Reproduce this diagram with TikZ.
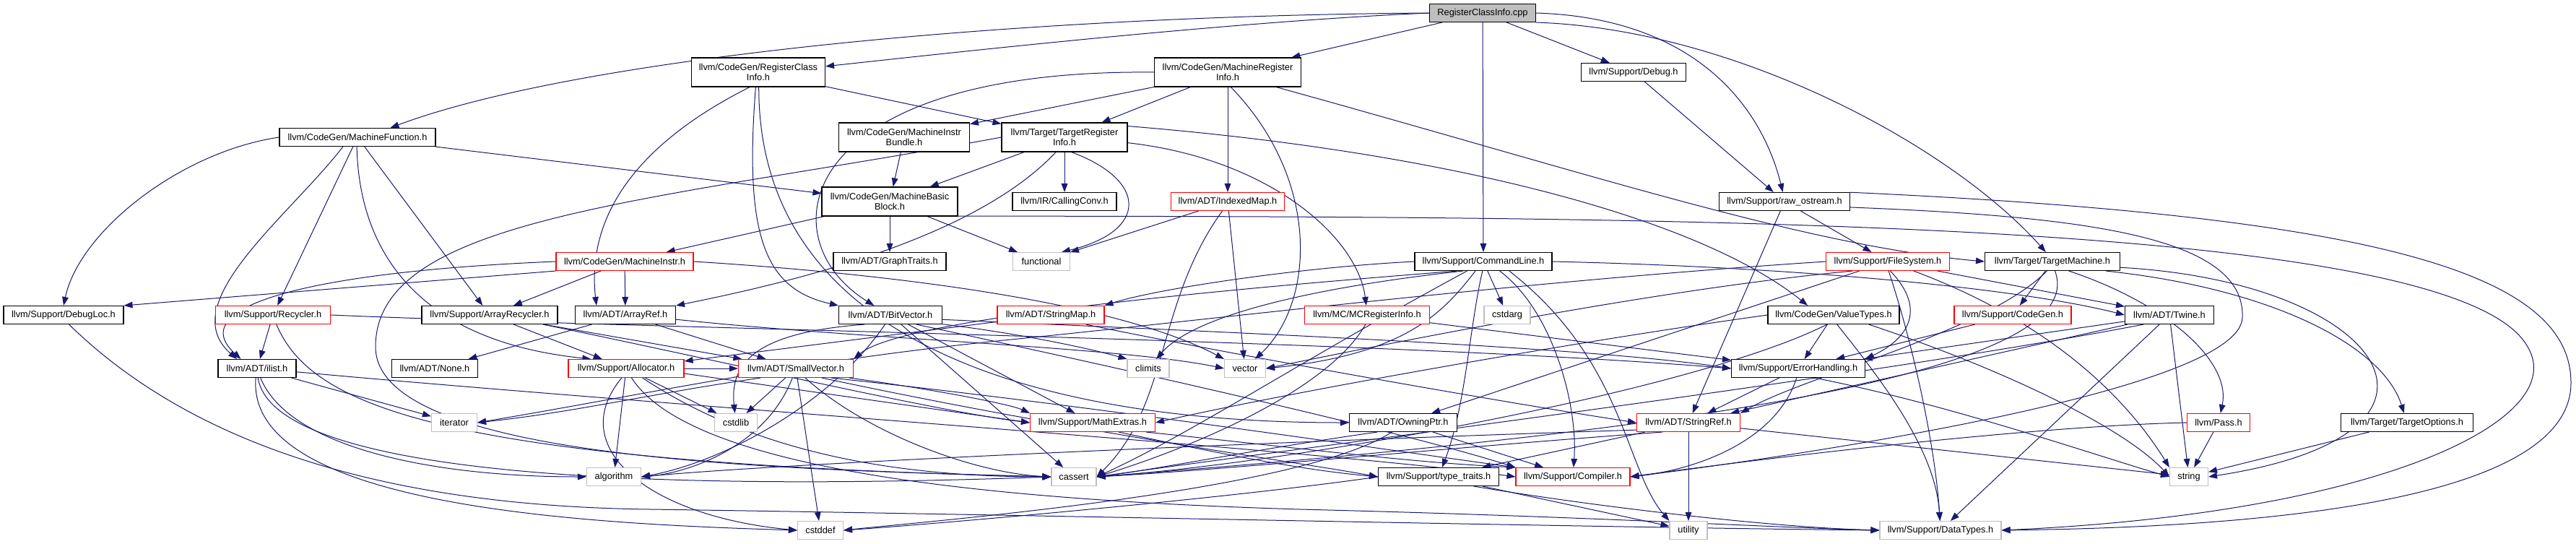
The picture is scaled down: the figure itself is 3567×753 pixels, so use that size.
\documentclass[tikz,border=0pt]{standalone}
\usepackage{fontspec}
\setmainfont{Liberation Sans}
\usetikzlibrary{arrows.meta}
\definecolor{edgec}{HTML}{191970}
\definecolor{grayb}{HTML}{BFBFBF}
\pgfdeclarelayer{bg}
\pgfsetlayers{bg,main}
\begin{document}
\begin{tikzpicture}[x=0.75pt,y=-0.75pt,
  box/.style={draw=black, fill=white, line width=0.8pt, inner sep=0pt, minimum height=18.75pt, align=center, font=\fontsize{9.6}{10.5}\selectfont},
  two/.style={minimum height=30pt},
  wd/.style={minimum width=#1*0.75pt},
  redb/.style={draw=red},
  grayn/.style={draw=grayb},
  e/.style={draw=edgec, line width=0.75pt, -{Triangle[length=9pt,width=6.5pt]}}
]
\useasboundingbox (0,0) rectangle (3567,753);
\begin{pgfonlayer}{bg}
\fill[white] (0,0) rectangle (3567,753);
\end{pgfonlayer}

\node[box,wd=147,fill=grayb] (cpp) at (2053,18) {RegisterClassInfo.cpp};
\node[box,two,wd=185] (rci) at (1050,100) {llvm/CodeGen/RegisterClass\\Info.h};
\node[box,two,wd=203] (mri) at (1700,100) {llvm/CodeGen/MachineRegister\\Info.h};
\node[box,wd=145] (dbg) at (2262,100) {llvm/Support/Debug.h};
\node[box,wd=216] (mf) at (495,190) {llvm/CodeGen/MachineFunction.h};
\node[box,two,wd=181] (mib) at (1252,190) {llvm/CodeGen/MachineInstr\\Bundle.h};
\node[box,two,wd=174] (tri) at (1474,190) {llvm/Target/TargetRegister\\Info.h};
\node[box,two,wd=188] (mbb) at (1232,279) {llvm/CodeGen/MachineBasic\\Block.h};
\node[box,wd=144] (cc) at (1474,279) {llvm/IR/CallingConv.h};
\node[box,redb,wd=157] (imap) at (1700,279) {llvm/ADT/IndexedMap.h};
\node[box,wd=181] (raw) at (2471,279) {llvm/Support/raw\_ostream.h};
\node[box,redb,wd=190] (mi) at (865,362) {llvm/CodeGen/MachineInstr.h};
\node[box,wd=156] (gt) at (1232,362) {llvm/ADT/GraphTraits.h};
\node[box,grayn,wd=79] (func) at (1442,362) {functional};
\node[box,wd=190] (cl) at (2054,362) {llvm/Support/CommandLine.h};
\node[box,redb,wd=171] (fs) at (2614,362) {llvm/Support/FileSystem.h};
\node[box,wd=187] (tm) at (2842,362) {llvm/Target/TargetMachine.h};
\node[box,wd=166] (dl) at (88,436) {llvm/Support/DebugLoc.h};
\node[box,redb,wd=159] (rec) at (378,436) {llvm/Support/Recycler.h};
\node[box,wd=188] (arec) at (678,436) {llvm/Support/ArrayRecycler.h};
\node[box,wd=139] (aref) at (866,436) {llvm/ADT/ArrayRef.h};
\node[box,wd=143] (bv) at (1233,436) {llvm/ADT/BitVector.h};
\node[box,redb,wd=148] (smap) at (1455,436) {llvm/ADT/StringMap.h};
\node[box,redb,wd=173] (mcri) at (1893,436) {llvm/MC/MCRegisterInfo.h};
\node[box,grayn,wd=64] (cstdarg) at (2087,436) {cstdarg};
\node[box,wd=182] (vt) at (2539,436) {llvm/CodeGen/ValueTypes.h};
\node[box,redb,wd=162] (cg) at (2787,436) {llvm/Support/CodeGen.h};
\node[box,wd=123] (tw) at (3004,436) {llvm/ADT/Twine.h};
\node[box,wd=108] (ilist) at (356,510) {llvm/ADT/ilist.h};
\node[box,wd=119] (none) at (602,510) {llvm/ADT/None.h};
\node[box,redb,wd=160] (alloc) at (867,510) {llvm/Support/Allocator.h};
\node[box,redb,wd=159] (sv) at (1102,510) {llvm/ADT/SmallVector.h};
\node[box,grayn,wd=58] (climits) at (1590,510) {climits};
\node[box,grayn,wd=57] (vector) at (1724,510) {vector};
\node[box,wd=185] (eh) at (2490,510) {llvm/Support/ErrorHandling.h};
\node[box,grayn,wd=63] (iter) at (629,585) {iterator};
\node[box,grayn,wd=59] (cstdlib) at (1019,585) {cstdlib};
\node[box,redb,wd=173] (mathx) at (1513,585) {llvm/Support/MathExtras.h};
\node[box,wd=149] (owp) at (1943,585) {llvm/ADT/OwningPtr.h};
\node[box,redb,wd=143] (sref) at (2338,585) {llvm/ADT/StringRef.h};
\node[box,redb,wd=87] (pass) at (3072,585) {llvm/Pass.h};
\node[box,wd=183] (topt) at (3333,585) {llvm/Target/TargetOptions.h};
\node[box,grayn,wd=75] (alg) at (850,660) {algorithm};
\node[box,grayn,wd=62] (cassert) at (1487,660) {cassert};
\node[box,wd=167] (tt) at (1992,660) {llvm/Support/type\_traits.h};
\node[box,redb,wd=158] (comp) at (2178,660) {llvm/Support/Compiler.h};
\node[box,grayn,wd=53] (string) at (3031,660) {string};
\node[box,grayn,wd=63] (cstddef) at (1136,734) {cstddef};
\node[box,grayn,wd=52] (utility) at (2338,734) {utility};
\node[box,grayn,wd=168] (dt) at (2687,734) {llvm/Support/DataTypes.h};

\begin{pgfonlayer}{bg}
% root
\draw[e] (cpp.west) .. controls (1400,22) and (800,80) .. (mf.16);
\draw[e] (cpp.west) .. controls (1700,30) and (1300,75) .. (rci.5);
\draw[e] (cpp) -- (mri);
\draw[e] (cpp) -- (cl);
\draw[e] (cpp) -- (dbg);
\draw[e] (cpp.east) .. controls (2350,25) and (2440,150) .. (raw.100);
\draw[e] (cpp.-10) .. controls (2400,40) and (2700,200) .. (tm.125);
\draw[e] (dbg) -- (raw);
% RegisterClassInfo.h
\draw[e] (rci) -- (tri);
\draw[e] (rci.240) .. controls (880,200) and (812,300) .. (aref.162);
\draw[e] (rci.-100) .. controls (1030,330) and (1060,400) .. (bv.north west);
\draw[e] (rci.-88) .. controls (1050,480) and (1450,585) .. (owp.west);
% MachineRegisterInfo.h
\draw[e] (mri.west) .. controls (1100,95) and (1060,330) .. (bv.150);
\draw[e] (mri) -- (mib);
\draw[e] (mri) -- (tri);
\draw[e] (mri) -- (imap);
\draw[e] (mri.-78) .. controls (1830,250) and (1820,420) .. (vector);
\draw[e] (mri.-17) .. controls (2200,240) and (2500,340) .. (tm.west);
% MachineFunction.h
\draw[e] (mf.west) .. controls (250,210) and (110,320) .. (dl.north);
\draw[e] (mf.-147) .. controls (400,300) and (240,420) .. (ilist.155);
\draw[e] (mf) -- (rec);
\draw[e] (mf.-94) .. controls (497,330) and (560,470) .. (alloc.165);
\draw[e] (mf) -- (arec);
\draw[e] (mf) -- (mbb);
% MachineInstrBundle.h, TargetRegisterInfo.h
\draw[e] (mib) -- (mbb);
\draw[e] (tri) -- (mbb);
\draw[e] (tri) -- (cc);
\draw[e] (tri.-65) .. controls (1590,250) and (1590,320) .. (func.25);
\draw[e] (tri.-120) .. controls (1350,330) and (1100,390) .. (aref.north east);
\draw[e] (tri.-5) .. controls (1760,220) and (1880,330) .. (mcri.95);
\draw[e] (tri.10) .. controls (2000,210) and (2350,300) .. (vt.160);
\draw[e] (tri.west) .. controls (900,280) and (520,300) .. (520,480) .. controls (520,640) and (1100,650) .. (cassert.west);
% MachineBasicBlock.h
\draw[e] (mbb) -- (mi);
\draw[e] (mbb) -- (gt);
\draw[e] (mbb) -- (func);
\draw[e] (mbb.-12) .. controls (2300,300) and (3400,300) .. (3500,480) .. controls (3560,580) and (3300,710) .. (dt.east);
% raw_ostream.h
\draw[e] (raw) -- (sref);
\draw[e] (raw) -- (fs);
\draw[e] (raw.8) .. controls (3300,300) and (3560,380) .. (3560,530) .. controls (3560,700) and (3100,730) .. (dt.east);
\draw[e] (raw.-5) .. controls (2900,300) and (3110,330) .. (3105,440) .. controls (3100,540) and (2500,630) .. (comp.east);
% FileSystem.h
\draw[e] (fs) -- (owp);
\draw[e] (fs) -- (tw);
\draw[e] (fs.-85) .. controls (2650,480) and (2680,620) .. (dt);
\draw[e] (fs.-75) .. controls (2670,430) and (2640,470) .. (eh.north east);
\draw[e] (fs.west) .. controls (2100,390) and (1700,440) .. (1400,470) .. controls (1100,500) and (900,545) .. (iter.east);
\draw[e] (fs.-20) .. controls (2850,450) and (2950,560) .. (string.north west);
\draw[e] (fs.195) .. controls (2300,400) and (1950,470) .. (vector.east);
% ValueTypes.h
\draw[e] (vt) -- (eh);
\draw[e] (vt.west) .. controls (2200,470) and (1800,540) .. (mathx.east);
\draw[e] (vt.-125) .. controls (2350,540) and (1800,640) .. (cassert.east);
\draw[e] (vt.-70) .. controls (2600,520) and (2680,620) .. (dt);
\draw[e] (vt.-15) .. controls (2800,520) and (2950,600) .. (string.west);
% ErrorHandling.h
\draw[e] (eh) -- (sref);
\draw[e] (eh.-100) .. controls (2460,610) and (2350,650) .. (comp.east);
\draw[e] (eh.-30) .. controls (2700,560) and (2900,630) .. (string.west);
% TargetMachine.h
\draw[e] (tm) -- (cg);
\draw[e] (tm.-30) .. controls (3000,420) and (3090,500) .. (pass);
\draw[e] (tm.-10) .. controls (3150,400) and (3300,480) .. (topt);
\draw[e] (tm.-5) .. controls (3300,390) and (3450,600) .. (string.east);
\draw[e] (tm.-75) .. controls (2900,520) and (2300,600) .. (cassert.east);
\draw[e] (tm.-120) .. controls (2750,460) and (2500,520) .. (sref.north east);
\draw[e] (cg) -- (eh);
% Twine.h
\draw[e] (tw) -- (sref);
\draw[e] (tw) -- (dt);
\draw[e] (tw) -- (eh);
\draw[e] (tw.200) .. controls (2600,520) and (1800,620) .. (cassert.east);
\draw[e] (tw) -- (string);
% Pass.h, TargetOptions.h
\draw[e] (pass) -- (string);
\draw[e] (pass.west) .. controls (2800,590) and (2400,640) .. (comp.east);
\draw[e] (topt) -- (string);
% StringRef.h
\draw[e] (sref) -- (utility);
\draw[e] (sref) -- (tt);
\draw[e] (sref) -- (string);
\draw[e] (sref.188) .. controls (1800,610) and (1100,640) .. (alg.east);
\draw[e] (sref.200) .. controls (2000,620) and (1700,650) .. (cassert.east);
% OwningPtr.h
\draw[e] (owp) -- (comp);
\draw[e] (owp.200) .. controls (1750,620) and (1600,650) .. (cassert.east);
\draw[e] (owp.-140) .. controls (1800,680) and (1300,720) .. (cstddef.east);
% MathExtras.h
\draw[e] (mathx.-10) .. controls (1800,620) and (1950,640) .. (comp.north west);
\draw[e] (mathx.-20) .. controls (1700,630) and (1800,650) .. (tt.west);
% type_traits.h
\draw[e] (tt) -- (utility);
\draw[e] (tt.-15) .. controls (2200,700) and (2450,730) .. (dt.west);
\draw[e] (tt.west) .. controls (1700,690) and (1300,725) .. (cstddef.east);
% ilist.h
\draw[e] (ilist.-5) .. controls (900,560) and (1800,620) .. (comp.west);
\draw[e] (ilist) -- (iter);
\draw[e] (ilist.-70) .. controls (400,620) and (600,660) .. (alg.west);
\draw[e] (ilist.-85) .. controls (380,660) and (900,680) .. (cassert.west);
\draw[e] (ilist.-98) .. controls (340,700) and (800,725) .. (cstddef.west);
% Recycler.h
\draw[e] (rec) -- (ilist);
\draw[e] (rec.east) .. controls (900,455) and (1900,470) .. (eh.west);
\draw[e] (rec.-70) .. controls (430,560) and (600,640) .. (cassert.west);
% ArrayRecycler.h
\draw[e] (arec) -- (sv);
\draw[e] (arec) -- (alloc);
\draw[e] (arec.-10) .. controls (1000,500) and (1300,570) .. (mathx.west);
% ArrayRef.h
\draw[e] (aref) -- (none);
\draw[e] (aref) -- (sv);
\draw[e] (aref.-5) .. controls (1200,470) and (1550,480) .. (vector.west);
% MachineInstr.h
\draw[e] (mi.west) .. controls (450,375) and (250,420) .. (ilist.150);
\draw[e] (mi.south west) -- (dl.north east);
\draw[e] (mi) -- (arec);
\draw[e] (mi) -- (aref);
\draw[e] (mi.east) .. controls (1250,380) and (1550,420) .. (vector.north west);
% Allocator.h
\draw[e] (alloc) -- (sv);
\draw[e] (alloc) -- (cstdlib);
\draw[e] (alloc.-5) -- (mathx.west);
\draw[e] (alloc) -- (alg);
\draw[e] (alloc.-30) .. controls (1050,630) and (1250,660) .. (cassert.west);
\draw[e] (alloc.-115) .. controls (780,620) and (900,715) .. (cstddef.west);
\draw[e] (alloc.-60) .. controls (950,640) and (1300,690) .. (1800,705) .. controls (2200,715) and (2450,730) .. (dt.west);
% SmallVector.h
\draw[e] (sv.195) .. controls (900,545) and (800,570) .. (iter.east);
\draw[e] (sv.-110) .. controls (1060,620) and (950,655) .. (alg.east);
\draw[e] (sv) -- (cstdlib);
\draw[e] (sv) -- (cstddef);
\draw[e] (sv.-45) .. controls (1200,600) and (1350,655) .. (cassert.west);
\draw[e] (sv.-10) .. controls (1300,540) and (1400,560) .. (mathx.north west);
\draw[e] (sv.-20) .. controls (1500,600) and (1800,640) .. (tt.west);
\draw[e] (sv.-15) .. controls (1500,560) and (1900,620) .. (comp.north west);
% BitVector.h
\draw[e] (bv.-10) .. controls (1400,460) and (1500,480) .. (climits.north west);
\draw[e] (bv.-5) .. controls (1700,460) and (2200,480) .. (eh.west);
\draw[e] (bv.-20) .. controls (1600,520) and (1950,600) .. (comp.north west);
\draw[e] (bv) -- (mathx);
\draw[e] (bv) -- (cassert);
\draw[e] (bv.-120) .. controls (1150,560) and (1000,640) .. (alg.east);
\draw[e] (bv.200) .. controls (1050,460) and (1010,500) .. (cstdlib);
% StringMap.h, MCRegisterInfo.h
\draw[e] (smap) -- (alloc);
\draw[e] (smap.-15) .. controls (1700,490) and (2100,560) .. (sref.west);
\draw[e] (mcri) -- (eh);
\draw[e] (mcri.-100) .. controls (1840,540) and (1650,620) .. (cassert.east);
% CommandLine.h
\draw[e] (cl) -- (cstdarg);
\draw[e] (cl.west) .. controls (1800,370) and (1600,400) .. (smap.north east);
\draw[e] (cl.200) .. controls (1700,400) and (1250,440) .. (sv.north east);
\draw[e] (cl.east) .. controls (2500,370) and (2800,400) .. (tw.west);
\draw[e] (cl.-30) .. controls (2150,430) and (2185,560) .. (comp);
\draw[e] (cl.-95) .. controls (2035,450) and (2030,560) .. (tt);
\draw[e] (cl.210) .. controls (1800,500) and (1650,600) .. (cassert.east);
\draw[e] (cl.205) .. controls (1800,400) and (1650,440) .. (climits);
\draw[e] (cl.-20) .. controls (2250,500) and (2250,650) .. (utility.north west);
\draw[e] (cl.-130) .. controls (2000,430) and (1950,490) .. (vector.east);
% IndexedMap.h
\draw[e] (imap) -- (func);
\draw[e] (imap) -- (vector);
\draw[e] (imap.-120) .. controls (1600,420) and (1620,560) .. (cassert.east);
% DebugLoc.h
\draw[e] (dl.-60) .. controls (250,600) and (500,700) .. (900,705) .. controls (1400,712) and (2200,730) .. (dt.west);
\end{pgfonlayer}
\end{tikzpicture}
\end{document}
